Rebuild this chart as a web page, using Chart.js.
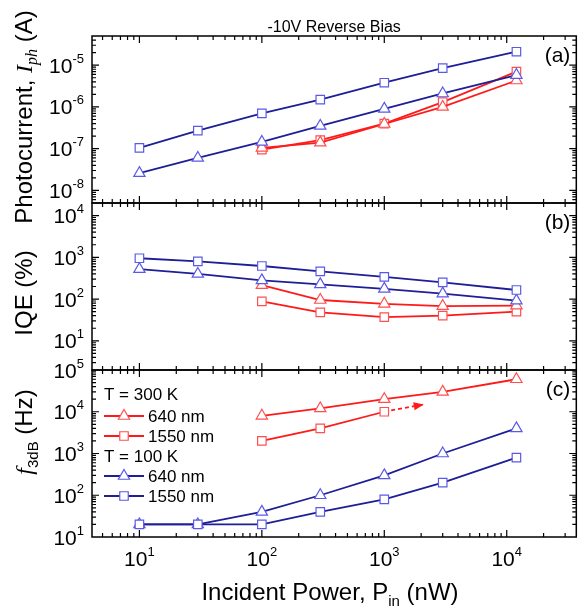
<!DOCTYPE html>
<html>
<head>
<meta charset="utf-8">
<script src="https://cdn.jsdelivr.net/npm/chart.js@4.4.1/dist/chart.umd.min.js"></script>
<style>
    html, body { margin: 0; padding: 0; background: #fff; }
    #wrap { position: relative; width: 584px; height: 608px; }
    #wrap canvas { position: absolute; left: 0; top: 0; }
</style>
</head>
<body>
<div id="wrap">
    <canvas id="chart-a" width="584" height="608"></canvas>
    <canvas id="chart-b" width="584" height="608"></canvas>
    <canvas id="chart-c" width="584" height="608"></canvas>
</div>
<script>
// ===== DATA =====
// incident power (nW)
const powerLowT = [10, 30, 100, 300, 1000, 3000, 12000];
const powerRoomT = [100, 300, 1000, 3000, 12000];

// (a) photocurrent (A)
const iph100K640 = [2.6e-8, 6e-8, 1.45e-7, 3.5e-7, 9e-7, 2.1e-6, 5.8e-6];
const iph100K1550 = [1.05e-7, 2.7e-7, 7e-7, 1.5e-6, 3.8e-6, 8.5e-6, 2.1e-5];
const iph300K640 = [1.05e-7, 1.4e-7, 3.9e-7, 1.0e-6, 4.3e-6];
const iph300K1550 = [9.5e-8, 1.6e-7, 4e-7, 1.3e-6, 7e-6];

// (b) IQE (%)
const iqe100K640 = [520, 400, 280, 225, 175, 135, 92];
const iqe100K1550 = [950, 800, 620, 460, 340, 250, 165];
const iqe300K640 = [215, 95, 77, 68, 70];
const iqe300K1550 = [88, 48, 37, 40, 50];

// (c) f3dB (Hz)
const f3dB100K640 = [20, 20, 40, 100, 300, 1000, 4000];
const f3dB100K1550 = [20, 20, 20, 40, 80, 200, 800];
const f3dB300K640 = [8000, 12000, 20000, 30000, 60000];
const f3dB300K1550 = [2000, 4000, 10000];
const arrowPower = [1000, 2100];
const arrowF3dB = [10000, 15000];

// axis ranges
const xRange = [4.1, 37000];
const yRangeA = [5e-9, 5e-5];
const yRangeB = [2, 2e4];
const yRangeC = [10, 1e5];

// ===== STYLE =====
const BLUE_LINE = '#1e1e96';
const BLUE_MARK = '#5a5ae6';
const RED_LINE = '#ff1a1a';
const RED_MARK = '#ff5050';
const SANS = '"Liberation Sans", Arial, sans-serif';
const SERIF = '"Liberation Serif", "Times New Roman", serif';

function series(xs, ys, shape, lineColor, markColor) {
    return {
        data: xs.map((x, i) => ({ x: x, y: ys[i] })),
        borderColor: lineColor,
        borderWidth: 1.8,
        pointStyle: shape,
        pointRadius: shape === 'rect' ? 6 : 6.5,
        pointBorderColor: markColor,
        pointBackgroundColor: '#fff',
        pointBorderWidth: 1.2,
        tension: 0
    };
}

// ===== TEXT HELPERS =====
function drawRich(ctx, parts, x, y, align, rotate) {
    ctx.save();
    ctx.translate(x, y);
    if (rotate) ctx.rotate(-Math.PI / 2);
    ctx.textAlign = 'left';
    ctx.textBaseline = 'alphabetic';
    ctx.fillStyle = '#000';
    let total = 0;
    parts.forEach(p => { ctx.font = p.f; total += ctx.measureText(p.t).width; });
    let cx = align === 'center' ? -total / 2 : (align === 'right' ? -total : 0);
    parts.forEach(p => {
        ctx.font = p.f;
        ctx.fillText(p.t, cx, p.dy || 0);
        cx += ctx.measureText(p.t).width;
    });
    ctx.restore();
}

function powerLabel(exp) {
    return [
        { t: '10', f: '21px ' + SANS },
        { t: String(exp), f: '13px ' + SANS, dy: -10 }
    ];
}

function logTicks(scale) {
    const out = [];
    const lo = Math.floor(Math.log10(scale.min));
    const hi = Math.ceil(Math.log10(scale.max));
    for (let d = lo; d <= hi; d++) {
        for (let m = 1; m <= 9; m++) {
            const v = m * Math.pow(10, d);
            if (v < scale.min * 0.999 || v > scale.max * 1.001) continue;
            out.push({ v: v, major: m === 1, exp: d });
        }
    }
    return out;
}

// ===== PANEL PLUGIN =====
function panelPlugin(p) {
    return {
        id: 'panel-' + p.name,
        afterDatasetsDraw(chart) {
            const ctx = chart.ctx;
            const a = chart.chartArea;
            const xs = chart.scales.x;
            const ys = chart.scales.y;

            ctx.save();
            ctx.strokeStyle = '#000';
            ctx.lineWidth = 1.2;
            // x ticks, top and bottom, pointing inward
            logTicks(xs).forEach(t => {
                const px = xs.getPixelForValue(t.v);
                if (px <= a.left + 1 || px >= a.right - 1) return;
                const len = t.major ? 7 : 4;
                ctx.beginPath();
                ctx.moveTo(px, a.bottom); ctx.lineTo(px, a.bottom - len);
                ctx.moveTo(px, a.top); ctx.lineTo(px, a.top + len);
                ctx.stroke();
            });
            // y ticks, left and right
            logTicks(ys).forEach(t => {
                const py = ys.getPixelForValue(t.v);
                if (py <= a.top + 1 || py >= a.bottom - 1) return;
                const len = t.major ? 7 : 4;
                ctx.beginPath();
                ctx.moveTo(a.left, py); ctx.lineTo(a.left + len, py);
                ctx.moveTo(a.right, py); ctx.lineTo(a.right - len, py);
                ctx.stroke();
            });
            // frame
            ctx.lineWidth = 1.5;
            ctx.strokeRect(a.left, a.top, a.right - a.left, a.bottom - a.top);
            ctx.restore();

            // y tick labels
            logTicks(ys).filter(t => t.major).forEach(t => {
                const py = ys.getPixelForValue(t.v);
                drawRich(ctx, [
                    { t: '10', f: '21px ' + SANS },
                    { t: String(t.exp), f: '13px ' + SANS, dy: -10 }
                ], a.left - 8, py + 7.5, 'right', false);
            });

            // panel tag
            ctx.save();
            ctx.font = '21px ' + SANS;
            ctx.fillStyle = '#000';
            ctx.textAlign = 'right';
            ctx.textBaseline = 'middle';
            ctx.fillText(p.tag, a.right - 6, a.top + 20);
            ctx.restore();

            // y axis title
            drawRich(ctx, p.yTitle, p.yTitleX, p.yTitleY, 'center', true);

            if (p.extra) p.extra(chart);
        }
    };
}

// ===== EXTRA DRAWING =====
function drawTitleA(chart) {
    const a = chart.chartArea;
    const ctx = chart.ctx;
    ctx.save();
    ctx.font = '16px ' + SANS;
    ctx.fillStyle = '#000';
    ctx.textAlign = 'center';
    ctx.textBaseline = 'alphabetic';
    ctx.fillText('-10V Reverse Bias', (a.left + a.right) / 2, a.top - 4);
    ctx.restore();
}

function drawLegendMark(ctx, x, y, shape, lineColor, markColor) {
    ctx.save();
    ctx.strokeStyle = lineColor;
    ctx.lineWidth = 1.8;
    ctx.beginPath();
    ctx.moveTo(x, y); ctx.lineTo(x + 40, y);
    ctx.stroke();
    ctx.fillStyle = '#fff';
    ctx.strokeStyle = markColor;
    ctx.lineWidth = 1.2;
    Chart.helpers.drawPoint(ctx, {
        pointStyle: shape, radius: shape === 'rect' ? 6 : 6.5, rotation: 0, borderWidth: 1.2
    }, x + 20, y);
    ctx.restore();
}

function drawPanelC(chart) {
    const ctx = chart.ctx;
    const a = chart.chartArea;
    const xs = chart.scales.x;

    // arrowhead on the dashed 300 K / 1550 nm extension
    const meta = chart.getDatasetMeta(4);
    const p0 = meta.data[0], p1 = meta.data[1];
    const ang = Math.atan2(p1.y - p0.y, p1.x - p0.x);
    ctx.save();
    ctx.fillStyle = RED_LINE;
    ctx.translate(p1.x, p1.y);
    ctx.rotate(ang);
    ctx.beginPath();
    ctx.moveTo(0, 0); ctx.lineTo(-10, -4); ctx.lineTo(-10, 4); ctx.closePath();
    ctx.fill();
    ctx.restore();

    // x tick labels
    logTicks(xs).filter(t => t.major).forEach(t => {
        const px = xs.getPixelForValue(t.v);
        drawRich(ctx, [
            { t: '10', f: '21px ' + SANS },
            { t: String(t.exp), f: '13px ' + SANS, dy: -10 }
        ], px, 566, 'center', false);
    });

    // x axis title
    drawRich(ctx, [
        { t: 'Incident Power, ', f: '24px ' + SANS },
        { t: 'P', f: '24px ' + SANS },
        { t: 'in', f: '15px ' + SANS, dy: 6 },
        { t: ' (nW)', f: '24px ' + SANS }
    ], 330, 600, 'center', false);

    // legend
    const lx = 104;
    const font = '17px ' + SANS;
    ctx.save();
    ctx.font = font;
    ctx.fillStyle = '#000';
    ctx.textAlign = 'left';
    ctx.textBaseline = 'middle';
    ctx.fillText('T = 300 K', lx, 395);
    drawLegendMark(ctx, lx, 416, 'triangle', RED_LINE, RED_MARK);
    ctx.fillText('640 nm', lx + 44, 417);
    drawLegendMark(ctx, lx, 436, 'rect', RED_LINE, RED_MARK);
    ctx.fillText('1550 nm', lx + 44, 437);
    ctx.fillText('T = 100 K', lx, 457);
    drawLegendMark(ctx, lx, 476, 'triangle', BLUE_LINE, BLUE_MARK);
    ctx.fillText('640 nm', lx + 44, 477);
    drawLegendMark(ctx, lx, 496, 'rect', BLUE_LINE, BLUE_MARK);
    ctx.fillText('1550 nm', lx + 44, 497);
    ctx.restore();
}

// ===== CHART BUILDING =====
function makePanel(id, top, bottom, yRange, datasets, p) {
    return new Chart(document.getElementById(id), {
        type: 'line',
        data: { datasets: datasets },
        options: {
            responsive: false,
            animation: false,
            devicePixelRatio: 1,
            events: [],
            layout: { padding: { left: 92, right: 3, top: top, bottom: 608 - bottom } },
            plugins: { legend: { display: false }, tooltip: { enabled: false } },
            scales: {
                x: { type: 'logarithmic', min: xRange[0], max: xRange[1], display: false },
                y: { type: 'logarithmic', min: yRange[0], max: yRange[1], display: false }
            }
        },
        plugins: [panelPlugin(p)]
    });
}

makePanel('chart-a', 36, 203, yRangeA, [
    series(powerLowT, iph100K1550, 'rect', BLUE_LINE, BLUE_MARK),
    series(powerLowT, iph100K640, 'triangle', BLUE_LINE, BLUE_MARK),
    series(powerRoomT, iph300K640, 'triangle', RED_LINE, RED_MARK),
    series(powerRoomT, iph300K1550, 'rect', RED_LINE, RED_MARK)
], {
    name: 'a', tag: '(a)', yTitleX: 32, yTitleY: 117,
    yTitle: [
        { t: 'Photocurrent, ', f: '24px ' + SANS },
        { t: 'I', f: 'italic 24px ' + SERIF },
        { t: 'ph', f: 'italic 16px ' + SERIF, dy: 5 },
        { t: ' (A)', f: '24px ' + SANS }
    ],
    extra: drawTitleA
});

makePanel('chart-b', 203, 370, yRangeB, [
    series(powerLowT, iqe100K1550, 'rect', BLUE_LINE, BLUE_MARK),
    series(powerLowT, iqe100K640, 'triangle', BLUE_LINE, BLUE_MARK),
    series(powerRoomT, iqe300K640, 'triangle', RED_LINE, RED_MARK),
    series(powerRoomT, iqe300K1550, 'rect', RED_LINE, RED_MARK)
], {
    name: 'b', tag: '(b)', yTitleX: 32, yTitleY: 293,
    yTitle: [{ t: 'IQE (%)', f: '24px ' + SANS }]
});

const arrowSet = {
    data: arrowPower.map((x, i) => ({ x: x, y: arrowF3dB[i] })),
    borderColor: RED_LINE,
    borderWidth: 1.8,
    borderDash: [4, 3],
    pointRadius: 0
};

makePanel('chart-c', 370, 537, yRangeC, [
    series(powerLowT, f3dB100K1550, 'rect', BLUE_LINE, BLUE_MARK),
    series(powerLowT, f3dB100K640, 'triangle', BLUE_LINE, BLUE_MARK),
    series(powerRoomT, f3dB300K640, 'triangle', RED_LINE, RED_MARK),
    series(powerRoomT.slice(0, f3dB300K1550.length), f3dB300K1550, 'rect', RED_LINE, RED_MARK),
    arrowSet
], {
    name: 'c', tag: '(c)', yTitleX: 32, yTitleY: 432,
    yTitle: [
        { t: 'f', f: 'italic 24px ' + SERIF },
        { t: '3dB', f: '15px ' + SANS, dy: 6 },
        { t: ' (Hz)', f: '24px ' + SANS }
    ],
    extra: drawPanelC
});
</script>
</body>
</html>
